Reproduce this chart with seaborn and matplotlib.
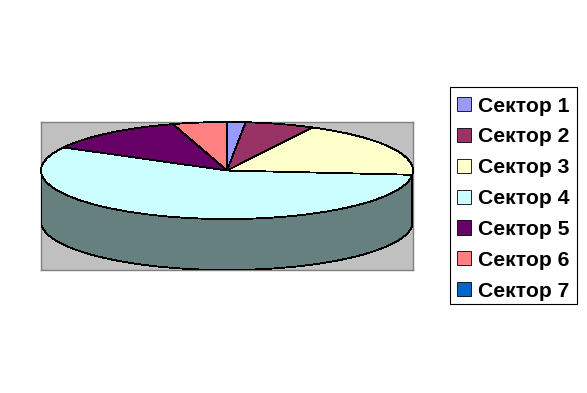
import numpy as np
import seaborn as sns
import matplotlib.pyplot as plt
from matplotlib.patches import Rectangle

# Values (percent, estimated)
labels = ['Сектор 1', 'Сектор 2', 'Сектор 3', 'Сектор 4', 'Сектор 5', 'Сектор 6', 'Сектор 7']
values = [1.6, 6.0, 18.8, 56.5, 12.4, 4.7, 0.0]
colors = ['#9999FF', '#993366', '#FFFFCC', '#CCFFFF', '#660066', '#FF8080', '#0066CC']

sns.set_theme(style='white')
plt.rcParams['font.family'] = ['Liberation Sans', 'DejaVu Sans']
palette = sns.color_palette(colors)

W, H = 587, 393
fig = plt.figure(figsize=(W / 100, H / 100), dpi=100, facecolor='white')
# plot area in pixels: x 41-413, y 122-270
ax = fig.add_axes([41 / W, 1 - 270 / H, 372 / W, 148 / H], facecolor='#C0C0C0')

depth = 1.05  # height of the disc, in units of the squashed radius

# side of the disc, only the part of each sector facing the viewer
edges = np.concatenate([[0], np.cumsum(values)]) / sum(values) * 360
for i, col in enumerate(palette):
    a0, a1 = max(edges[i], 90), min(edges[i + 1], 270)
    if a1 <= a0:
        continue
    t = np.radians(np.linspace(a0, a1, 200))
    x, y = np.sin(t), np.cos(t)
    dark = tuple(c * 0.5 for c in col)
    ax.fill(np.r_[x, x[::-1]], np.r_[y, y[::-1] - depth], color=dark,
            ec='black', lw=0.6, antialiased=False, zorder=1)

wedges, _ = ax.pie(values, colors=palette, startangle=90, counterclock=False,
                   radius=1, frame=True,
                   wedgeprops=dict(edgecolor='black', linewidth=0.6, antialiased=False))
for w in wedges:
    w.set_zorder(2)

ax.set_aspect('auto')
ax.set_xlim(-1, 1)
ax.set_ylim(-1 - depth, 1)
ax.set_xticks([])
ax.set_yticks([])
for s in ax.spines.values():
    s.set_color('#808080')
    s.set_linewidth(1)
    s.set_zorder(0)

# legend frame drawn on its own, the rows are not centred in it
fig.add_artist(Rectangle((449.6 / W, 1 - 304 / H), 127 / W, 217 / H,
                         transform=fig.transFigure, fc='white', ec='black', lw=0.8))

leg = fig.legend(wedges, labels, loc='upper left',
                 bbox_to_anchor=(449 / W, 1 - 89 / H), bbox_transform=fig.transFigure,
                 borderaxespad=0, prop=dict(size=15.2, weight='bold'),
                 handlelength=0.66, handleheight=0.66, handletextpad=0.34,
                 labelspacing=0.56, borderpad=0.36, frameon=False, labelcolor='black')

fig.savefig('out.png', dpi=100)
